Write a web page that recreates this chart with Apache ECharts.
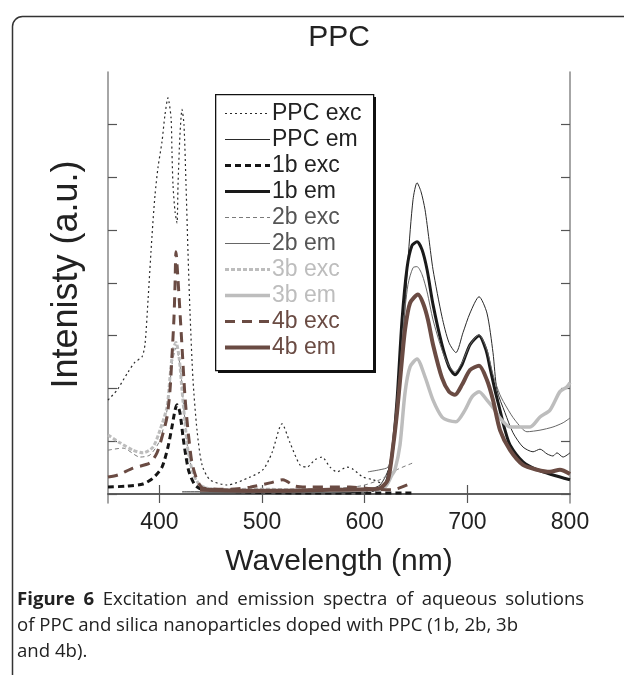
<!DOCTYPE html>
<html>
<head>
<meta charset="utf-8">
<script src="https://cdn.jsdelivr.net/npm/echarts@6/dist/echarts.min.js"></script>
<style>
  html, body { margin: 0; padding: 0; background: #fff; }
  #chart { width: 624px; height: 675px; }
</style>
</head>
<body>
<div id="chart"></div>
<script>
// wavelength (nm), intensity (a.u., one unit per y tick)
var ppcExc = [[350,1.78],[358.8,1.97],[369.5,2.31],[376.3,2.50],[383.1,2.60],[386,2.83],[389,3.68],[392.9,4.91],[395.8,5.67],[398.7,6.19],[402.6,6.68],[405.5,7.19],[408.4,7.51],[411.4,7.13],[412.3,6.49],[413.3,5.86],[415.3,5.35],[417.2,5.14],[418.2,5.86],[420.1,6.81],[422.1,7.29],[424,7.00],[426,5.86],[427.9,4.59],[429.9,3.43],[432.8,2.16],[436.7,1.21],[441.6,0.55],[449.3,0.27],[465.9,0.17],[488.3,0.32],[501,0.46],[509.7,0.78],[519.5,1.33],[527.3,0.97],[537,0.55],[543.8,0.51],[551.6,0.65],[558.4,0.70],[566.2,0.51],[573,0.42],[582.8,0.51],[588.6,0.47],[598.4,0.32],[608.1,0.27],[617.8,0.19]];
var ppcEm = [[422.1,0.04],[488.3,0.04],[566.2,0.06],[600.3,0.08],[614.9,0.17],[624.7,0.55],[631.5,1.40],[637.3,2.92],[642.2,4.44],[647.1,5.58],[651,5.90],[654.9,5.73],[658.8,5.39],[662.7,4.82],[666.6,4.25],[675.3,3.36],[682.1,2.87],[688.9,2.68],[695.8,3.06],[702.6,3.43],[711.4,3.74],[719.1,3.43],[725,2.68],[728.9,1.97],[736.7,1.54],[744.5,1.16],[754.2,0.89],[764,0.80],[770.8,0.85],[777.6,0.76],[783.4,0.72],[787.3,0.78],[793.2,0.70],[800,0.78]];
var exc1b = [[350,0.13],[368.5,0.15],[384.1,0.19],[393.8,0.30],[402.6,0.51],[408.4,0.89],[412.3,1.27],[415.3,1.59],[417.2,1.69],[420.1,1.54],[423.1,1.08],[426,0.70],[428.9,0.42],[434.7,0.17],[442.5,0.08],[478.6,0.04],[537,0.02],[595.4,0.02],[646.1,0.02]];
var em1b = [[439.6,0.04],[537,0.04],[605.2,0.06],[619.8,0.17],[626.6,0.74],[631.5,1.78],[636.4,3.30],[641.3,4.29],[646.1,4.71],[651,4.78],[655.9,4.63],[660.8,4.25],[666.6,3.59],[675.3,2.83],[682.1,2.41],[688,2.26],[694.8,2.45],[702.6,2.83],[711.4,3.00],[718.2,2.73],[722.1,2.39],[726.9,1.97],[731.8,1.59],[736.7,1.21],[741.6,0.93],[754.2,0.61],[767.8,0.46],[783.4,0.36],[800,0.27]];
var exc2b = [[350,0.83],[364.6,0.87],[381.2,0.70],[390.9,0.74],[400.6,1.02],[407.5,1.59],[412.3,2.45],[416.2,2.77],[420.1,2.45],[424,1.59],[427.9,0.83],[434.7,0.30],[444.4,0.13],[488.3,0.08],[556.4,0.09],[595.4,0.15],[614.8,0.27],[631.4,0.46],[647.1,0.59]];
var em2b = [[603.2,0.42],[614.9,0.46],[622.7,0.51],[627.6,0.83],[632.5,1.78],[637.3,3.11],[642.2,3.97],[647.1,4.29],[651,4.31],[655.9,4.16],[660.8,3.83],[666.6,3.30],[675.3,2.73],[682.1,2.43],[688,2.31],[694.8,2.49],[702.6,2.83],[711.4,3.02],[719.1,2.73],[725,2.26],[731.8,1.88],[738.7,1.63],[746.4,1.40],[758.1,1.18],[770.8,1.21],[783.4,1.27],[793.2,1.35],[800,1.44]];
var exc3b = [[350,1.12],[361.7,0.97],[374.3,0.83],[384.1,0.78],[393.8,0.89],[400.6,1.21],[407.5,1.65],[410.4,2.22],[413.3,2.73],[416.2,2.87],[419.2,2.60],[422.1,1.97],[425,1.35],[427.9,0.83],[432.8,0.40],[439.6,0.17],[454.2,0.08],[498,0.09],[537,0.08],[585.7,0.09],[610,0.06]];
var em3b = [[439.6,0.06],[537,0.06],[605.2,0.08],[619.8,0.13],[626.6,0.36],[629.5,0.46],[634.4,0.93],[639.3,1.92],[644.2,2.41],[651,2.56],[658.8,2.22],[666.6,1.78],[675.3,1.46],[682.1,1.39],[688.9,1.37],[697.7,1.59],[704.5,1.84],[711.4,1.94],[719.1,1.78],[726.9,1.59],[731.8,1.44],[741.6,1.27],[761.1,1.27],[770.8,1.46],[780.5,1.59],[790.2,1.94],[797.1,2.03],[800,2.11]];
var exc4b = [[350,0.32],[359.7,0.36],[374.3,0.49],[390.9,0.59],[397.7,0.78],[402.6,1.08],[407.5,1.46],[410.4,1.97],[412.3,2.60],[414.3,3.36],[415.3,3.97],[416.2,4.59],[418.2,4.06],[422.1,2.79],[425,1.84],[427.9,1.21],[431.8,0.59],[436.7,0.27],[442.5,0.11],[468.8,0.09],[488.3,0.13],[507.8,0.21],[520.4,0.27],[532.1,0.15],[546.7,0.13],[566.2,0.13],[585.7,0.13],[610,0.09],[626.6,0.08],[646.1,0.21]];
var em4b = [[439.6,0.08],[498,0.06],[566.2,0.08],[605.2,0.09],[614.9,0.11],[622.7,0.27],[627.6,0.89],[631.5,1.54],[635.4,2.35],[639.3,3.11],[644.2,3.62],[651.9,3.78],[656.8,3.62],[661.7,3.30],[666.6,2.83],[675.3,2.20],[682.1,1.94],[688,1.88],[694.8,2.07],[702.6,2.35],[711.4,2.43],[719.1,2.16],[725,1.78],[731.8,1.21],[741.6,0.83],[754.2,0.55],[767.8,0.46],[780.5,0.42],[790.2,0.46],[800,0.38]];

var xTicks = [400, 500, 600, 700];
var xLabels = [400, 500, 600, 700, 800];
var yTicks = [0, 1, 2, 3, 4, 5, 6, 7];

var brown = '#6a4b43';
var lines = [
  { name: 'PPC exc', data: ppcExc, color: '#2a2a2a', width: 1.2, type: [2, 3], text: '#222' },
  { name: 'PPC em',  data: ppcEm,  color: '#2a2a2a', width: 1,   type: 'solid', text: '#222' },
  { name: '1b exc',  data: exc1b,  color: '#151515', width: 3,   type: [6, 4], text: '#222' },
  { name: '1b em',   data: em1b,   color: '#1a1a1a', width: 3,   type: 'solid', text: '#222' },
  { name: '2b exc',  data: exc2b,  color: '#7a7a7a', width: 1,   type: [4, 3], text: '#555' },
  { name: '2b em',   data: em2b,   color: '#666',    width: 1,   type: 'solid', text: '#555' },
  { name: '3b exc',  data: exc3b,  color: '#bdbdbd', width: 3,   type: [4, 2], text: '#bdbdbd' },
  { name: '3b em',   data: em3b,   color: '#bdbdbd', width: 3.5, type: 'solid', text: '#bdbdbd' },
  { name: '4b exc',  data: exc4b,  color: brown,     width: 3,   type: [10, 7], text: brown },
  { name: '4b em',   data: em4b,   color: brown,     width: 4,   type: 'solid', text: brown }
];

var axisCol = '#555';
var font = '"Liberation Sans", Arial, sans-serif';
var capFont = '"Open Sans", sans-serif';

var chart = echarts.init(document.getElementById('chart'), null, { renderer: 'canvas' });

var option = {
  animation: false,
  backgroundColor: '#fff',
  title: [
    {
      text: 'PPC', left: 339, top: 23, textAlign: 'center', padding: 0,
      textStyle: { fontFamily: font, fontSize: 30, fontWeight: 'normal', color: '#222' }
    },
    {
      // first caption line is justified in the source, so its spaces are a bit wider
      text: '{b|Figure}{s| }{b|6}{s| }Excitation{s| }and{s| }emission{s| }spectra{s| }of{s| }aqueous{s| }solutions\nof PPC and silica nanoparticles doped with PPC (1b, 2b, 3b\nand 4b).',
      left: 17, top: 587, padding: 0,
      textStyle: {
        fontFamily: capFont, fontSize: 18.6, fontWeight: 'normal', color: '#222', lineHeight: 26,
        rich: {
          b: { fontFamily: capFont, fontSize: 18.6, fontWeight: 'bold', color: '#222', lineHeight: 26 },
          s: { fontFamily: capFont, fontSize: 18.6, width: 8.5, lineHeight: 26 }
        }
      }
    }
  ],
  graphic: [
    {
      type: 'rect', left: 10, top: 14, z: -1, silent: true,
      shape: { width: 640, height: 700, r: 10 },
      style: { fill: 'none', stroke: '#333', lineWidth: 1.5 }
    },
    // legend frame with its drop shadow
    {
      type: 'rect', left: 218, top: 97, z: 3, silent: true,
      shape: { width: 158, height: 276 },
      style: { fill: '#111' }
    },
    {
      type: 'rect', left: 215, top: 94, z: 3, silent: true,
      shape: { width: 158, height: 276 },
      style: { fill: '#fff', stroke: '#111', lineWidth: 1.3 }
    }
  ],
  legend: {
    orient: 'vertical', left: 215, top: 94,
    itemWidth: 45, itemHeight: 21, itemGap: 3,
    padding: [8, 10, 11, 8],
    backgroundColor: 'transparent', borderWidth: 0,
    textStyle: { fontFamily: font, fontSize: 23, lineHeight: 21, padding: [0, 0, 0, -3] },
    itemStyle: { opacity: 0 },
    data: lines.map(function (l) {
      return { name: l.name, textStyle: { color: l.text }, lineStyle: { width: l.width, type: l.type, color: l.color } };
    })
  },
  grid: { left: 108, right: 54, top: 72, bottom: 172 },
  xAxis: [
    {
      type: 'value', min: 350, max: 800,
      name: 'Wavelength (nm)', nameLocation: 'middle', nameGap: 44,
      nameTextStyle: { fontFamily: font, fontSize: 30, color: '#222' },
      axisLine: { show: true, lineStyle: { color: axisCol, width: 1.5 } },
      axisTick: { show: true, inside: true, length: 9, customValues: xTicks, lineStyle: { color: axisCol, width: 1.2 } },
      axisLabel: { customValues: xLabels, fontFamily: font, fontSize: 23, color: '#222', margin: 8 },
      splitLine: { show: false }
    },
    {
      type: 'value', min: 350, max: 800, position: 'top',
      axisLine: { show: true, lineStyle: { color: axisCol, width: 1.5 } },
      axisTick: { show: true, inside: true, length: 9, customValues: xTicks, lineStyle: { color: axisCol, width: 1.2 } },
      axisLabel: { show: false },
      splitLine: { show: false }
    }
  ],
  yAxis: [
    {
      type: 'value', min: -0.171, max: 8,
      name: 'Intenisty (a.u.)', nameLocation: 'middle', nameGap: 23,
      nameTextStyle: { fontFamily: font, fontSize: 36, color: '#222', padding: [0, 0, 0, 26] },
      axisLine: { show: true, lineStyle: { color: '#888', width: 1.5 } },
      axisTick: { show: true, inside: true, length: 9, customValues: yTicks, lineStyle: { color: axisCol, width: 1.2 } },
      axisLabel: { show: false },
      splitLine: { show: false }
    },
    {
      type: 'value', min: -0.171, max: 8, position: 'right',
      axisLine: { show: true, lineStyle: { color: '#888', width: 1.5 } },
      axisTick: { show: true, inside: true, length: 9, customValues: yTicks, lineStyle: { color: axisCol, width: 1.2 } },
      axisLabel: { show: false },
      splitLine: { show: false }
    }
  ],
  series: lines.map(function (l) {
    return {
      name: l.name, type: 'line', data: l.data,
      xAxisIndex: 0, yAxisIndex: 0,
      symbol: 'none', smooth: 0.25,
      color: l.color,
      lineStyle: { color: l.color, width: l.width, type: l.type }
    };
  })
};

chart.setOption(option);
</script>
</body>
</html>
